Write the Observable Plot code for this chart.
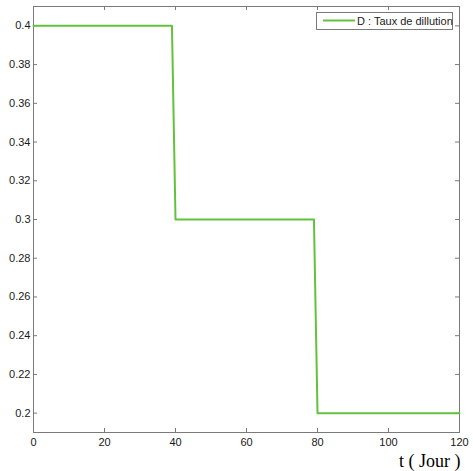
<!DOCTYPE html>
<html>
<head>
<meta charset="utf-8">
<script src="https://cdn.jsdelivr.net/npm/d3@7"></script>
<script src="https://cdn.jsdelivr.net/npm/@observablehq/plot@0.6"></script>
<style>
  html, body { margin: 0; padding: 0; background: #fff; }
  #chart { position: relative; width: 473px; height: 471px; overflow: hidden; }
</style>
</head>
<body>
<div id="chart"></div>
<script>
// Data
const tDays = [0, 39, 40, 79, 80, 120];
const dilution = [0.4, 0.4, 0.3, 0.3, 0.2, 0.2];
const xTicks = [0, 20, 40, 60, 80, 100, 120];
const yTicks = [0.2, 0.22, 0.24, 0.26, 0.28, 0.3, 0.32, 0.34, 0.36, 0.38, 0.4];
const seriesLabel = "D : Taux de dillution";
const xLabel = "t ( Jour )";

const W = 473, H = 471;
const mL = 33, mR = 14, mT = 6, mB = 39;
const pw = W - mL - mR, ph = H - mT - mB;
const tk = 4;
const axisColor = "#7a7a7a";
const lineColor = "#62c23c";

const rows = tDays.map((t, i) => ({t, d: dilution[i]}));

const chart = Plot.plot({
  width: W,
  height: H,
  marginLeft: mL,
  marginRight: mR,
  marginTop: mT,
  marginBottom: mB,
  style: {fontFamily: "'Liberation Sans', Arial, sans-serif", fontSize: "11px", color: "#1a1a1a", background: "#fff", overflow: "hidden"},
  x: {domain: [0, 120]},
  y: {domain: [0.19, 0.41]},
  marks: [
    Plot.frame({stroke: axisColor, strokeWidth: 1}),
    // inward ticks
    Plot.ruleX(xTicks, {x: d => d, insetTop: ph - tk, stroke: axisColor}),
    Plot.ruleX(xTicks, {x: d => d, insetBottom: ph - tk, stroke: axisColor}),
    Plot.ruleY(yTicks, {y: d => d, insetRight: pw - tk, stroke: axisColor}),
    Plot.ruleY(yTicks, {y: d => d, insetLeft: pw - tk, stroke: axisColor}),
    Plot.axisX({ticks: xTicks, tickSize: 0, tickPadding: 6, label: null, tickFormat: d => String(d)}),
    Plot.axisY({ticks: yTicks, tickSize: 0, tickPadding: 3, label: null, tickFormat: d => String(+d.toFixed(2))}),
    Plot.line(rows, {x: "t", y: "d", stroke: lineColor, strokeWidth: 2})
  ]
});

document.getElementById("chart").appendChild(chart);

const svg = d3.select(chart);
// Legend
const lg = svg.append("g").attr("text-anchor", "start");
lg.append("rect").attr("x", 316.5).attr("y", 12.5).attr("width", 136).attr("height", 17)
  .attr("fill", "#fff").attr("stroke", axisColor);
lg.append("line").attr("x1", 323).attr("x2", 355).attr("y1", 20.5).attr("y2", 20.5)
  .attr("stroke", lineColor).attr("stroke-width", 2);
lg.append("text").attr("x", 357).attr("y", 24.5).attr("text-anchor", "start").text(seriesLabel)
  .attr("font-family", "'Liberation Sans', Arial, sans-serif").attr("font-size", 11).attr("fill", "#1a1a1a");
// X label
svg.append("text").attr("x", 399).attr("y", 467).attr("text-anchor", "start").text(xLabel)
  .attr("font-family", "'Liberation Serif', 'DejaVu Serif', serif").attr("font-size", 18).attr("fill", "#000");
</script>
</body>
</html>
